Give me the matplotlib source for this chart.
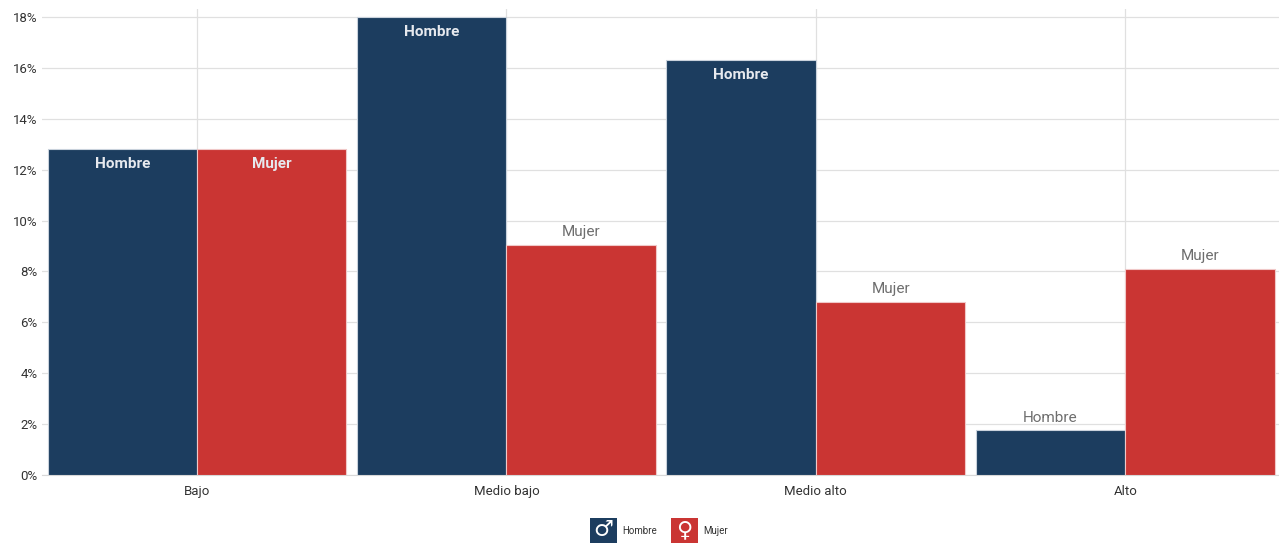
import matplotlib
matplotlib.use("Agg")
import matplotlib.pyplot as plt
from matplotlib.patches import Rectangle
import numpy as np

categorias = ["Bajo", "Medio bajo", "Medio alto", "Alto"]
hombre = [12.8, 18.0, 16.3, 1.75]
mujer = [12.8, 9.05, 6.8, 8.1]
yticks = [0, 2, 4, 6, 8, 10, 12, 14, 16, 18]

AZUL = "#1c3d5f"
ROJO = "#ca3533"
plt.rcParams["font.family"] = ["Roboto", "DejaVu Sans"]

W, H = 1279, 543
fig = plt.figure(figsize=(W / 100, H / 100), dpi=100)
ax = fig.add_axes([42.25 / W, 1 - 475 / H, (1280 - 42.25) / W, (475 - 9) / H])

x = np.arange(len(categorias))
ancho = 0.483
b1 = ax.bar(x - ancho / 2, hombre, ancho, color=AZUL, edgecolor="#c9d2dc", linewidth=0.8, zorder=3)
b2 = ax.bar(x + ancho / 2, mujer, ancho, color=ROJO, edgecolor="#f0c8c8", linewidth=0.8, zorder=3)

# etiquetas dentro de la barra si es alta, encima si no
for barras, valores, nombre in ((b1, hombre, "Hombre"), (b2, mujer, "Mujer")):
    for b, v in zip(barras, valores):
        cx = b.get_x() + b.get_width() / 2
        if v > 10:
            ax.annotate(nombre, (cx, v), xytext=(0, -5.5), textcoords="offset points",
                        ha="center", va="top", color="#e6e9ee", fontsize=11,
                        fontweight="bold", zorder=4)
        else:
            ax.annotate(nombre, (cx, v), xytext=(0, 4), textcoords="offset points",
                        ha="center", va="bottom", color="#6e6e6e", fontsize=11, zorder=4)

ax.set_xlim(-0.5, 3.5)
ax.set_ylim(0, 466 / 25.44)
ax.set_yticks(yticks)
ax.set_yticklabels([f"{t}%" for t in yticks], fontsize=9.5, color="#333333")
ax.set_xticks(x)
ax.set_xticklabels(categorias, fontsize=9.5, color="#333333")
ax.tick_params(axis="both", length=0)
ax.tick_params(axis="x", pad=7)
ax.tick_params(axis="y", pad=3.5)
ax.grid(True, color="#e0e0e0", linewidth=0.9)
ax.set_axisbelow(True)
for s in ("top", "right", "left"):
    ax.spines[s].set_visible(False)
ax.spines["bottom"].set_color("#d8d8d8")

# leyenda con iconos
for px, col, simbolo, nombre, tx in ((590, AZUL, "\u2642", "Hombre", 622), (671, ROJO, "\u2640", "Mujer", 703)):
    fig.add_artist(Rectangle((px / W, 0), 27 / W, 25 / H, transform=fig.transFigure,
                             facecolor=col, edgecolor="none"))
    fig.text((px + 13.5) / W, 1 - 530.5 / H, simbolo, color="white", fontsize=16, fontweight="bold",
             ha="center", va="center", family="DejaVu Sans")
    fig.text(tx / W, 1 - 531.5 / H, nombre, color="#333333", fontsize=7, ha="left", va="center")

fig.savefig("out.png", dpi=100)
